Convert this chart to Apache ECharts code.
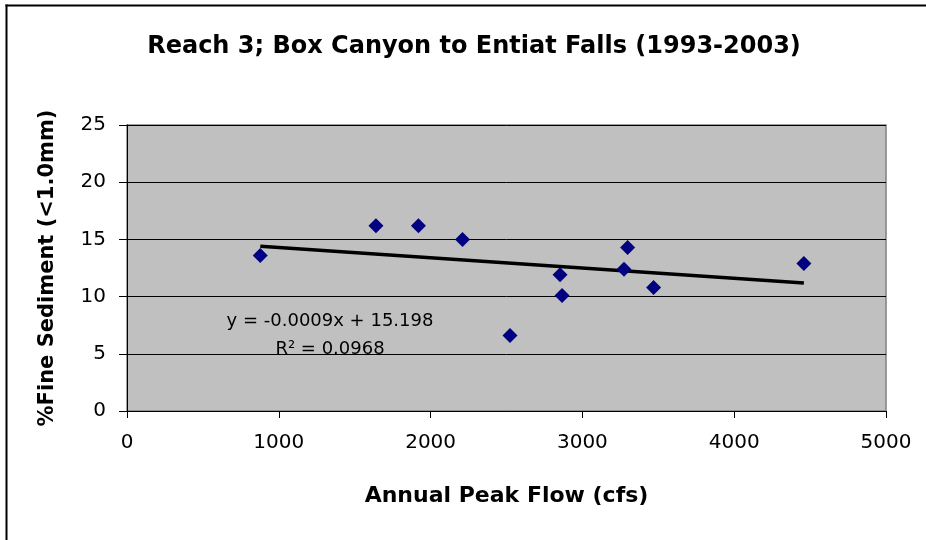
<!DOCTYPE html>
<html>
<head>
<meta charset="utf-8">
<script src="https://cdn.jsdelivr.net/npm/echarts@6/dist/echarts.min.js"></script>
<style>
html,body{margin:0;padding:0;background:#fff;overflow:hidden;}
#chart{width:926px;height:540px;}
</style>
</head>
<body>
<div id="chart"></div>
<script>
// Data
const peakFlow = [878, 1640, 1920, 2210, 2523, 2853, 2866, 3274, 3298, 3469, 4459];
const fineSediment = [13.6, 16.2, 16.2, 15.0, 6.6, 11.9, 10.1, 12.4, 14.3, 10.8, 12.9];
const xTicks = [0, 1000, 2000, 3000, 4000, 5000];
const yTicks = [0, 5, 10, 15, 20, 25];
const trendSlope = -0.0009;
const trendIntercept = 15.198;
const rSquared = 0.0968;

const titleText = 'Reach 3; Box Canyon to Entiat Falls (1993-2003)';
const xTitle = 'Annual Peak Flow (cfs)';
const yTitle = '%Fine Sediment (<1.0mm)';
const eqText = 'y = ' + trendSlope.toFixed(4) + 'x + ' + trendIntercept.toFixed(3);
const r2Text = 'R\u00B2 = ' + rSquared.toFixed(4);

const points = peakFlow.map((x, i) => [x, fineSediment[i]]);
const xMin = Math.min(...peakFlow), xMax = Math.max(...peakFlow);
const trend = [[xMin, trendSlope * xMin + trendIntercept], [xMax, trendSlope * xMax + trendIntercept]];

const FONT = 'DejaVu Sans';
const chart = echarts.init(document.getElementById('chart'));
chart.setOption({
  animation: false,
  backgroundColor: '#ffffff',
  grid: {
    left: 127, top: 125, right: 40, bottom: 129,
    show: true, backgroundColor: '#c0c0c0', borderColor: '#808080', borderWidth: 1.5
  },
  xAxis: {
    type: 'value', min: xTicks[0], max: xTicks[xTicks.length - 1], interval: 1000,
    name: xTitle, nameLocation: 'middle', nameGap: 74,
    nameTextStyle: {fontFamily: FONT, fontSize: 22, fontWeight: 'bold', color: '#000'},
    axisLine: {show: true, lineStyle: {color: '#000', width: 1}},
    axisTick: {show: true, inside: false, length: 7, lineStyle: {color: '#000'}},
    axisLabel: {fontFamily: FONT, fontSize: 20, color: '#000', margin: 22,
      formatter: v => String(v)},
    splitLine: {show: false}
  },
  yAxis: {
    type: 'value', min: yTicks[0], max: yTicks[yTicks.length - 1], interval: 5,
    name: yTitle, nameLocation: 'middle', nameGap: 69, nameRotate: 90,
    nameTextStyle: {fontFamily: FONT, fontSize: 21, fontWeight: 'bold', color: '#000'},
    axisLine: {show: true, lineStyle: {color: '#000', width: 1}},
    axisTick: {show: true, inside: false, length: 8, lineStyle: {color: '#000'}},
    axisLabel: {fontFamily: FONT, fontSize: 20, color: '#000', margin: 21,
      formatter: v => String(v)},
    splitLine: {show: true, lineStyle: {color: '#000', width: 1}}
  },
  graphic: [
    {type: 'line', shape: {x1: 6.5, y1: 4.5, x2: 6.5, y2: 545},
     style: {stroke: '#000', lineWidth: 2}, silent: true},
    {type: 'line', shape: {x1: 5.5, y1: 5.5, x2: 960, y2: 5.5},
     style: {stroke: '#000', lineWidth: 2}, silent: true},
    {type: 'text', x: 474, y: 47, style: {text: titleText, fontFamily: FONT, fontSize: 24,
     fontWeight: 'bold', fill: '#000', align: 'center', verticalAlign: 'middle'}},
    {type: 'text', x: 330, y: 321, z: 10, style: {text: eqText, fontFamily: FONT, fontSize: 18,
     fill: '#000', align: 'center', verticalAlign: 'middle'}},
    {type: 'text', x: 330, y: 349, z: 10, style: {text: r2Text, fontFamily: FONT, fontSize: 18,
     fill: '#000', align: 'center', verticalAlign: 'middle'}}
  ],
  series: [
    {type: 'line', data: trend, showSymbol: false, symbol: 'none',
     lineStyle: {color: '#000', width: 3.5}, z: 2, silent: true},
    {type: 'scatter', data: points, symbol: 'diamond', symbolSize: 15,
     itemStyle: {color: '#000080', opacity: 1}, z: 3}
  ]
});
</script>
</body>
</html>
